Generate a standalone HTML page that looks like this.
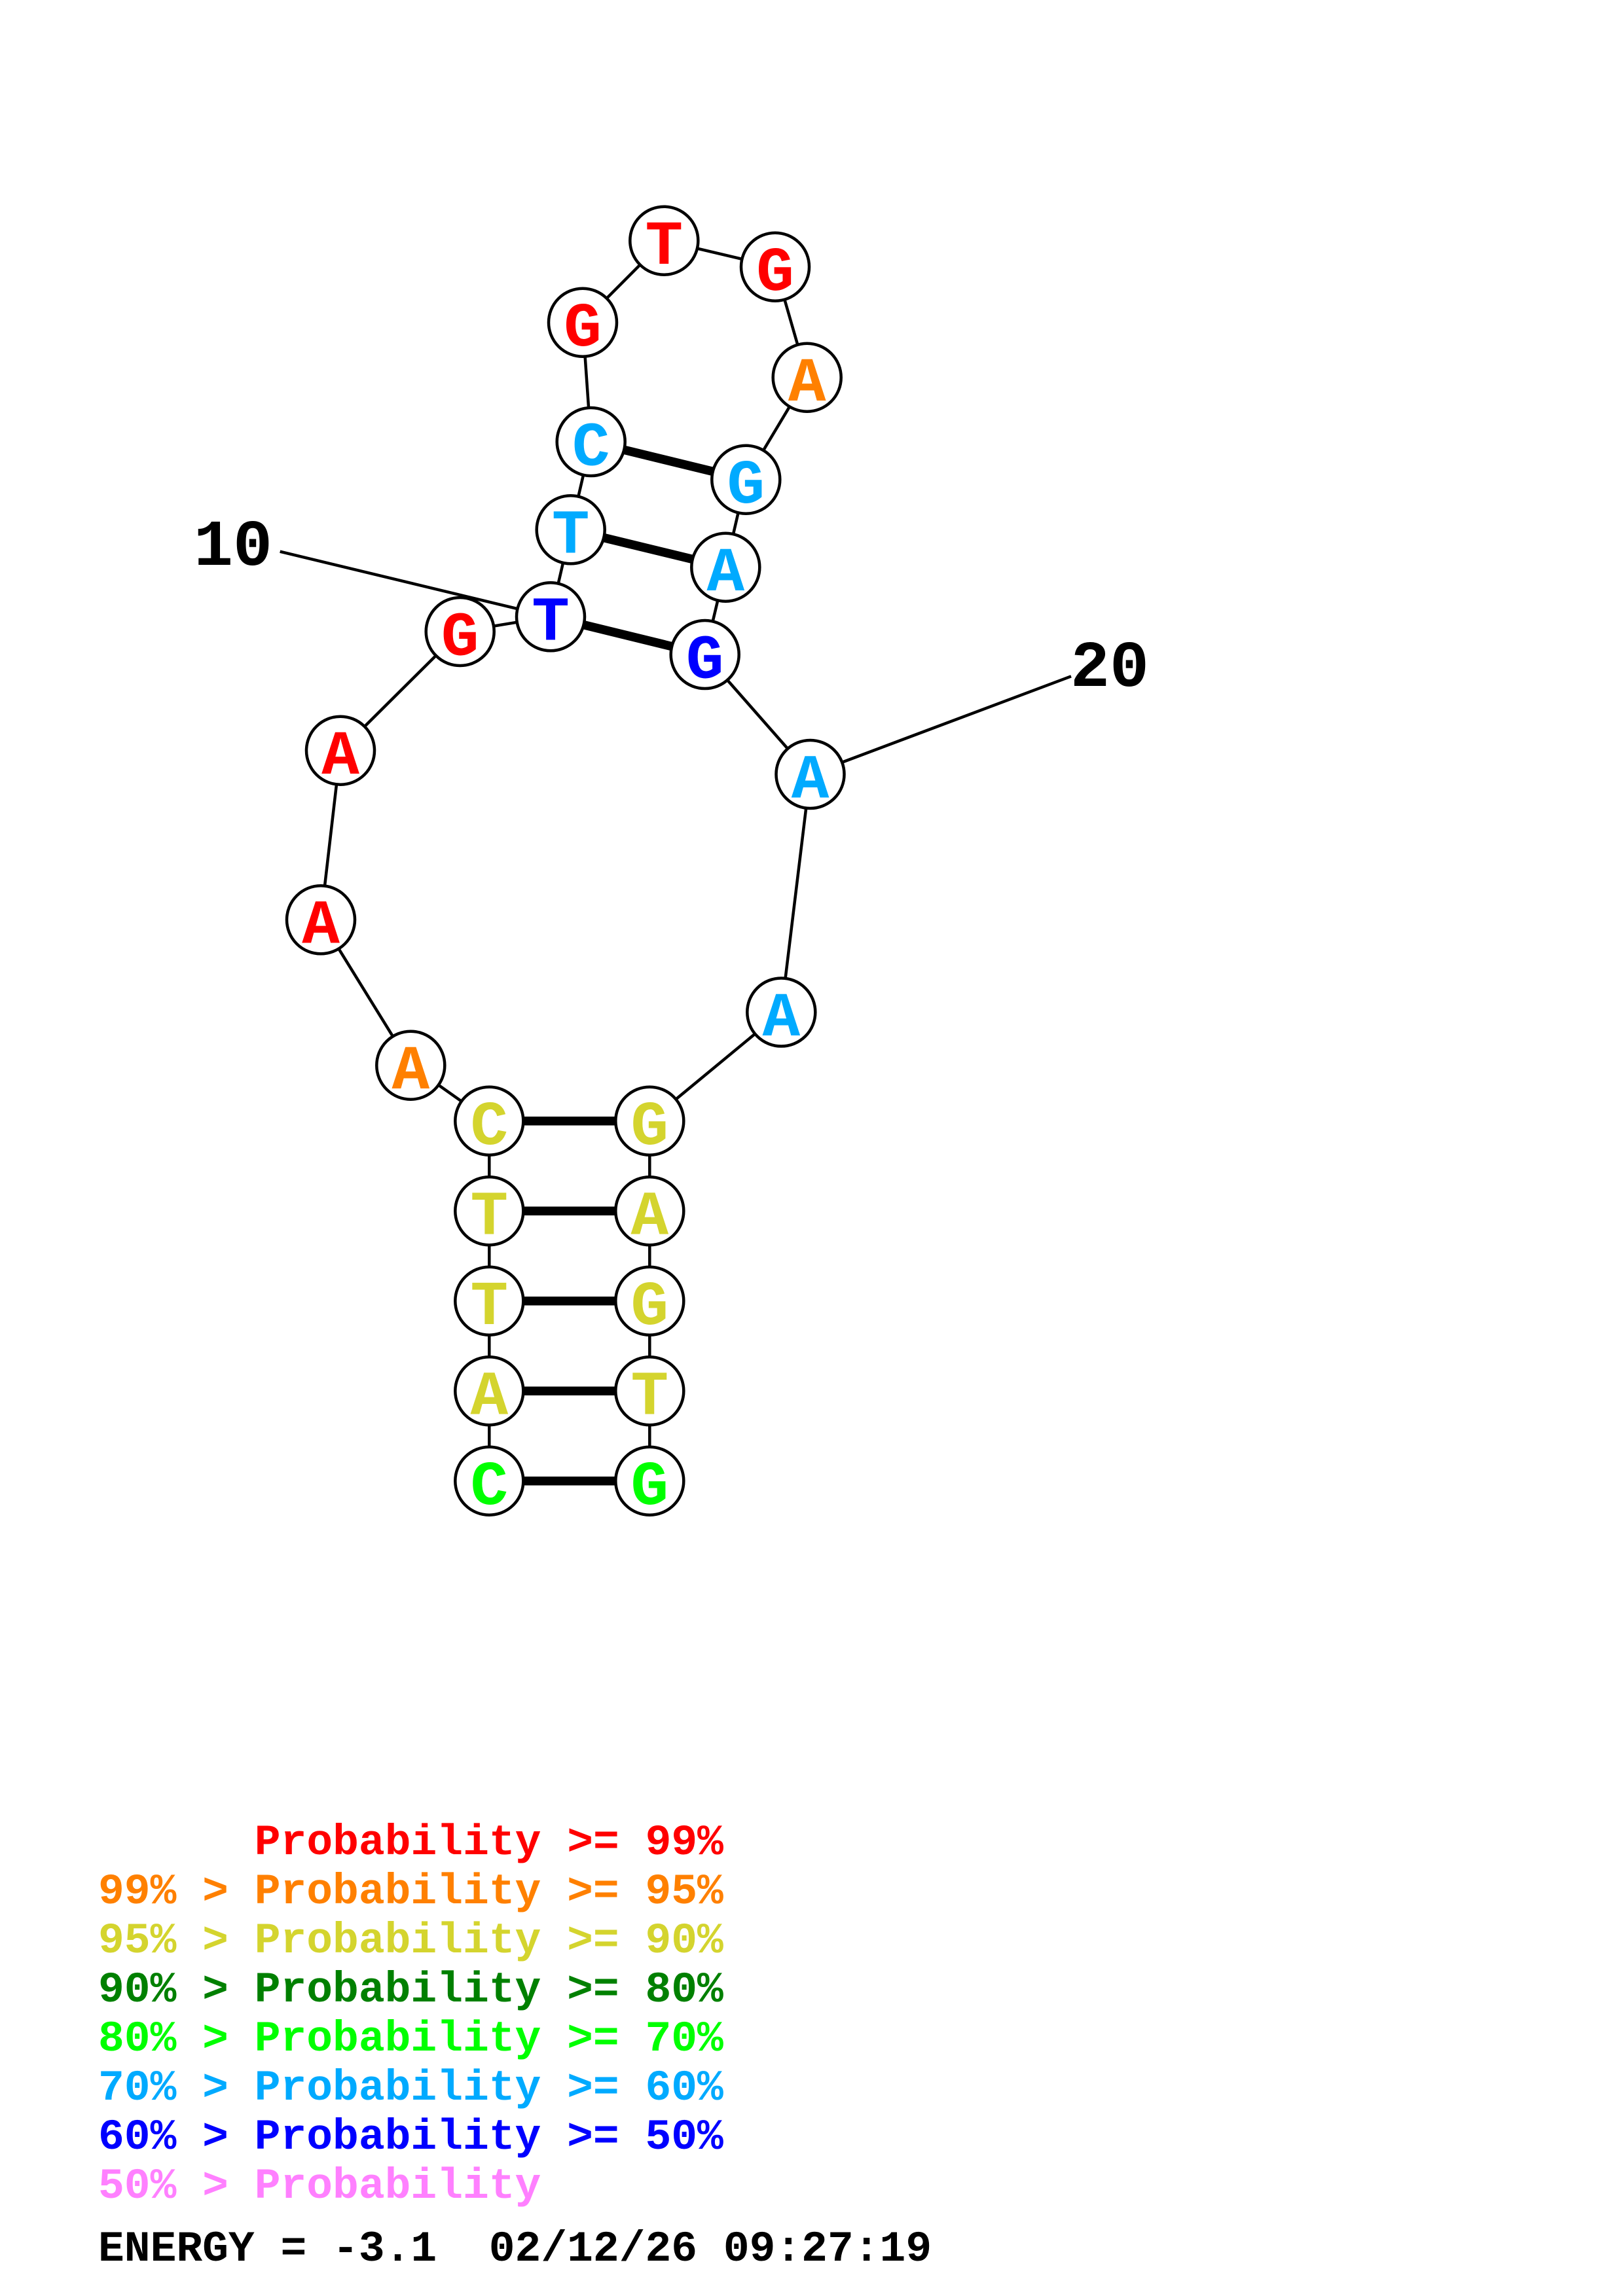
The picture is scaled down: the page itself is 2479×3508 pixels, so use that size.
<!DOCTYPE html>
<html>
<head>
<meta charset="utf-8">
<style>
  html, body { margin:0; padding:0; background:#ffffff; }
  svg { display:block; }
  .nt { font-family: "Liberation Mono", "DejaVu Sans Mono", monospace; font-weight:bold; font-size:96px; text-anchor:middle; }
  .lbl { font-family: "Liberation Mono", "DejaVu Sans Mono", monospace; font-weight:bold; font-size:100px; fill:#000; }
  .leg { font-family: "Liberation Mono", "DejaVu Sans Mono", monospace; font-weight:bold; font-size:66.3px; white-space:pre; }
</style>
</head>
<body>
<svg xmlns="http://www.w3.org/2000/svg" width="2479" height="3508" viewBox="0 0 2479 3508">
  <rect x="0" y="0" width="2479" height="3508" fill="#ffffff"/>

  <!-- backbone -->
  <polyline fill="none" stroke="#000" stroke-width="4.5" stroke-linejoin="round"
    points="747.3,2262.7 747.3,2125.2 747.3,1987.7 747.3,1850.2 747.3,1712.7 627.3,1627.7 490,1405.3 520,1146.7 702.7,965 841,942.3 871.7,809.3 902.7,675 890,492.7 1014.3,367.7 1184,407.7 1232.7,576.7 1139.3,732.7 1108.3,866.7 1076.7,1000 1237.5,1183 1193.3,1546.5 992.3,1712.7 992.3,1850.2 992.3,1987.7 992.3,2125.2 992.3,2262.7"/>

  <!-- base pairs -->
  <g stroke="#000" stroke-width="13.5">
    <line x1="747.3" y1="2262.7" x2="992.3" y2="2262.7"/>
    <line x1="747.3" y1="2125.2" x2="992.3" y2="2125.2"/>
    <line x1="747.3" y1="1987.7" x2="992.3" y2="1987.7"/>
    <line x1="747.3" y1="1850.2" x2="992.3" y2="1850.2"/>
    <line x1="747.3" y1="1712.7" x2="992.3" y2="1712.7"/>
    <line x1="841" y1="942.3" x2="1076.7" y2="1000"/>
    <line x1="871.7" y1="809.3" x2="1108.3" y2="866.7"/>
    <line x1="902.7" y1="675" x2="1139.3" y2="732.7"/>
  </g>

  <!-- label lines -->
  <g stroke="#000" stroke-width="4.5">
    <line x1="427.7" y1="842.7" x2="841" y2="942.3"/>
    <line x1="1636" y1="1033.3" x2="1237.5" y2="1183"/>
  </g>

  <!-- circles -->
  <g fill="#ffffff" stroke="#000" stroke-width="4.5">
    <circle cx="747.3" cy="2262.7" r="52"/>
    <circle cx="747.3" cy="2125.2" r="52"/>
    <circle cx="747.3" cy="1987.7" r="52"/>
    <circle cx="747.3" cy="1850.2" r="52"/>
    <circle cx="747.3" cy="1712.7" r="52"/>
    <circle cx="627.3" cy="1627.7" r="52"/>
    <circle cx="490" cy="1405.3" r="52"/>
    <circle cx="520" cy="1146.7" r="52"/>
    <circle cx="702.7" cy="965" r="52"/>
    <circle cx="841" cy="942.3" r="52"/>
    <circle cx="871.7" cy="809.3" r="52"/>
    <circle cx="902.7" cy="675" r="52"/>
    <circle cx="890" cy="492.7" r="52"/>
    <circle cx="1014.3" cy="367.7" r="52"/>
    <circle cx="1184" cy="407.7" r="52"/>
    <circle cx="1232.7" cy="576.7" r="52"/>
    <circle cx="1139.3" cy="732.7" r="52"/>
    <circle cx="1108.3" cy="866.7" r="52"/>
    <circle cx="1076.7" cy="1000" r="52"/>
    <circle cx="1237.5" cy="1183" r="52"/>
    <circle cx="1193.3" cy="1546.5" r="52"/>
    <circle cx="992.3" cy="1712.7" r="52"/>
    <circle cx="992.3" cy="1850.2" r="52"/>
    <circle cx="992.3" cy="1987.7" r="52"/>
    <circle cx="992.3" cy="2125.2" r="52"/>
    <circle cx="992.3" cy="2262.7" r="52"/>
  </g>

  <!-- nucleotide letters -->
  <g class="nt">
    <text x="747.3" y="2298" fill="#00ff00">C</text>
    <text x="747.3" y="2160.5" fill="#d4d42e">A</text>
    <text x="747.3" y="2023" fill="#d4d42e">T</text>
    <text x="747.3" y="1885.5" fill="#d4d42e">T</text>
    <text x="747.3" y="1748" fill="#d4d42e">C</text>
    <text x="627.3" y="1663" fill="#ff8000">A</text>
    <text x="490" y="1440.6" fill="#ff0000">A</text>
    <text x="520" y="1182" fill="#ff0000">A</text>
    <text x="702.7" y="1000.3" fill="#ff0000">G</text>
    <text x="841" y="977.6" fill="#0000ff">T</text>
    <text x="871.7" y="844.6" fill="#00aaff">T</text>
    <text x="902.7" y="710.3" fill="#00aaff">C</text>
    <text x="890" y="528" fill="#ff0000">G</text>
    <text x="1014.3" y="403" fill="#ff0000">T</text>
    <text x="1184" y="443" fill="#ff0000">G</text>
    <text x="1232.7" y="612" fill="#ff8000">A</text>
    <text x="1139.3" y="768" fill="#00aaff">G</text>
    <text x="1108.3" y="902" fill="#00aaff">A</text>
    <text x="1076.7" y="1035.3" fill="#0000ff">G</text>
    <text x="1237.5" y="1218.3" fill="#00aaff">A</text>
    <text x="1193.3" y="1581.8" fill="#00aaff">A</text>
    <text x="992.3" y="1748" fill="#d4d42e">G</text>
    <text x="992.3" y="1885.5" fill="#d4d42e">A</text>
    <text x="992.3" y="2023" fill="#d4d42e">G</text>
    <text x="992.3" y="2160.5" fill="#d4d42e">T</text>
    <text x="992.3" y="2298" fill="#00ff00">G</text>
  </g>

  <!-- position labels -->
  <text class="lbl" x="296" y="863">10</text>
  <text class="lbl" x="1635" y="1048">20</text>

  <!-- legend -->
  <g class="leg">
    <text x="388.8" y="2833" fill="#ff0000">Probability &gt;= 99%</text>
    <text x="150" y="2908" fill="#ff8000">99% &gt; Probability &gt;= 95%</text>
    <text x="150" y="2983" fill="#d4d42e">95% &gt; Probability &gt;= 90%</text>
    <text x="150" y="3058" fill="#008000">90% &gt; Probability &gt;= 80%</text>
    <text x="150" y="3133" fill="#00ff00">80% &gt; Probability &gt;= 70%</text>
    <text x="150" y="3208" fill="#00aaff">70% &gt; Probability &gt;= 60%</text>
    <text x="150" y="3283" fill="#0000ff">60% &gt; Probability &gt;= 50%</text>
    <text x="150" y="3358" fill="#ff80ff">50% &gt; Probability</text>
    <text x="150" y="3454" fill="#000000" xml:space="preserve">ENERGY = -3.1  02/12/26 09:27:19</text>
  </g>
</svg>
</body>
</html>
